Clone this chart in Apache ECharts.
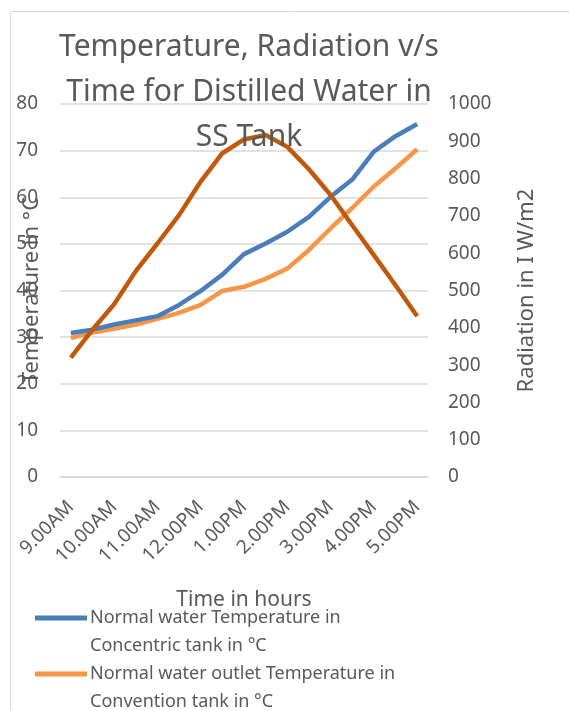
<!DOCTYPE html>
<html>
<head>
<meta charset="utf-8">
<script src="https://cdn.jsdelivr.net/npm/echarts@6/dist/echarts.min.js"></script>
<style>
  html, body { margin: 0; padding: 0; background: #fff; }
  #chart { width: 569px; height: 711px; }
</style>
</head>
<body>
<div id="chart"></div>
<script>
// 时间（半小时一个点）
var times = ['9.00AM', '9.30AM', '10.00AM', '10.30AM', '11.00AM', '11.30AM', '12.00PM', '12.30PM',
    '1.00PM', '1.30PM', '2.00PM', '2.30PM', '3.00PM', '3.30PM', '4.00PM', '4.30PM', '5.00PM'];

// 同心水箱温度
var concentricTemp = [30.9, 31.6, 32.7, 33.6, 34.5, 36.9, 39.9, 43.4, 47.8, 50.1, 52.6, 55.8, 60.1, 63.8, 69.8, 73.1, 75.7];
// 对流水箱出口温度
var conventionTemp = [29.8, 31.0, 31.8, 32.7, 33.9, 35.2, 36.9, 39.9, 40.8, 42.5, 44.7, 48.7, 53.3, 57.7, 62.3, 66.2, 70.3];
// 辐射
var radiation = [320, 395, 463, 552, 626, 702, 792, 868, 905, 917, 885, 825, 756, 675, 595, 514, 431];

var seriesNames = [
    'Normal water Temperature in Concentric tank in °C',
    'Normal water outlet Temperature in Convention tank in °C',
    'Radiation in I W/m2'
];

var textColor = '#595959';
var font = 'Noto Sans';

var chart = echarts.init(document.getElementById('chart'));

// 图例线条放在第一行文字的位置
var legendIcon = 'path://M0,0h0.01v0.01h-0.01z M0,11.5h52v5h-52z M0,55.99h0.01v0.01h-0.01z';

var option = {
    backgroundColor: '#fff',
    animation: false,
    title: {
        text: 'Temperature, Radiation v/s\nTime for Distilled Water in\nSS Tank',
        left: 244,
        textAlign: 'center',
        top: 20,
        textStyle: {
            fontFamily: font,
            fontSize: 30,
            fontWeight: 'normal',
            color: textColor,
            lineHeight: 45
        }
    },
    graphic: [{
        type: 'rect',
        shape: { x: 10.5, y: 11.5, width: 700, height: 900 },
        style: { fill: 'none', stroke: '#d9d9d9', lineWidth: 1 },
        silent: true
    }],
    legend: {
        orient: 'vertical',
        left: 30,
        top: 599,
        height: 300,
        itemGap: 0,
        itemWidth: 52,
        itemHeight: 56,
        data: [
            { name: seriesNames[0], icon: legendIcon },
            { name: seriesNames[1], icon: legendIcon }
        ],
        formatter: function (name) {
            return name.replace(' in C', ' in\nC');
        },
        textStyle: {
            fontFamily: font,
            fontSize: 18,
            color: textColor,
            lineHeight: 28,
            padding: [0, 0, 0, -2]
        }
    },
    grid: {
        left: 60,
        right: 141,
        top: 104,
        bottom: 234,
        outerBoundsMode: 'none'
    },
    xAxis: {
        type: 'category',
        data: times,
        boundaryGap: true,
        name: 'Time in hours',
        nameLocation: 'middle',
        nameGap: 113,
        nameMoveOverlap: false,
        nameTextStyle: { fontFamily: font, fontSize: 21, color: textColor },
        axisLine: { show: true, lineStyle: { color: '#d9d9d9', width: 1.5 } },
        axisTick: { show: false },
        axisLabel: {
            interval: 1,
            rotate: 45,
            margin: 27,
            fontFamily: font,
            fontSize: 19,
            color: textColor
        }
    },
    yAxis: [{
        type: 'value',
        min: 0,
        max: 80,
        interval: 10,
        name: 'Temperature in °C',
        nameLocation: 'middle',
        nameGap: 17,
        nameMoveOverlap: false,
        nameTextStyle: { fontFamily: font, fontSize: 22, color: textColor },
        axisLine: { show: false },
        axisTick: { show: false },
        axisLabel: { margin: 22, fontFamily: font, fontSize: 19, color: textColor },
        splitLine: { lineStyle: { color: '#d9d9d9', width: 1.5 } }
    }, {
        type: 'value',
        min: 0,
        max: 1000,
        interval: 100,
        name: 'Radiation in I W/m2',
        nameLocation: 'middle',
        nameGap: 88,
        nameMoveOverlap: false,
        nameTextStyle: { fontFamily: font, fontSize: 22, color: textColor },
        axisLine: { show: false },
        axisTick: { show: false },
        axisLabel: {
            margin: 20, fontFamily: font, fontSize: 19, color: textColor,
            formatter: function (v) { return String(v); }
        },
        splitLine: { show: false }
    }],
    series: [{
        name: seriesNames[0],
        type: 'line',
        yAxisIndex: 0,
        data: concentricTemp,
        showSymbol: false,
        z: 3,
        itemStyle: { color: '#4a7ebb' },
        lineStyle: { color: '#4a7ebb', width: 4.5 }
    }, {
        name: seriesNames[1],
        type: 'line',
        yAxisIndex: 0,
        data: conventionTemp,
        showSymbol: false,
        z: 2,
        itemStyle: { color: '#f79646' },
        lineStyle: { color: '#f79646', width: 4.5 }
    }, {
        name: seriesNames[2],
        type: 'line',
        yAxisIndex: 1,
        data: radiation,
        showSymbol: false,
        z: 4,
        itemStyle: { color: '#c0590c' },
        lineStyle: { color: '#c0590c', width: 4.5 }
    }]
};

chart.setOption(option);
</script>
</body>
</html>
